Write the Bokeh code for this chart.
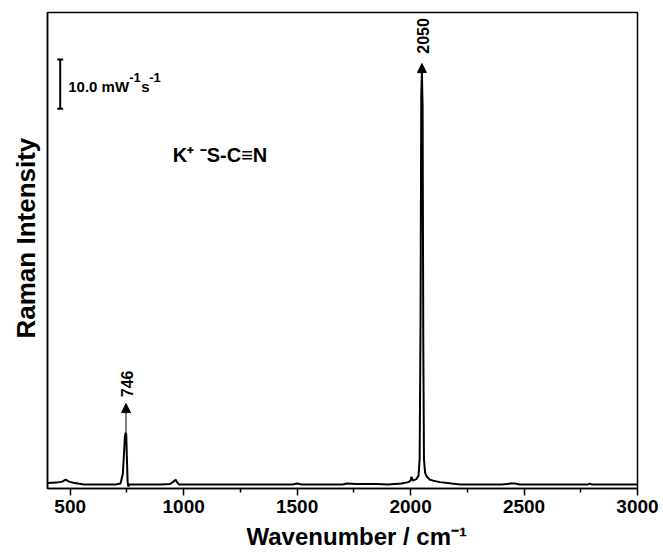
import numpy as np
from bokeh.plotting import figure
from bokeh.models import FixedTicker, Arrow, NormalHead, Range1d, Title
from bokeh.core.properties import value
from bokeh.embed import file_html
from bokeh.resources import INLINE

# Spectrum (wavenumber / cm-1, intensity in mW^-1 s^-1 units)
wavenumber = [400, 440, 465, 480, 495, 520, 560, 650, 700, 722, 732, 737, 741, 744, 747,
              750, 753, 756, 760, 800, 900, 940, 955, 965, 972, 980, 1000, 1200, 1480,
              1500, 1520, 1700, 1720, 1760, 1800, 1850, 1900, 1960, 1990, 2000, 2004,
              2010, 2025, 2035, 2040, 2044, 2047, 2050, 2053, 2056, 2059, 2064, 2072,
              2085, 2100, 2130, 2180, 2220, 2400, 2440, 2460, 2480, 2780, 2790, 2800, 3000]
intensity = [1.1, 1.2, 1.4, 1.8, 1.4, 1.1, 0.8, 0.8, 0.8, 1.0, 3.0, 7.0, 10.5, 11.4, 11.0,
             6.0, 1.5, 0.4, 0.8, 0.8, 0.8, 0.9, 1.4, 1.8, 1.2, 0.8, 0.8, 0.8, 0.8,
             1.0, 0.8, 0.8, 1.0, 0.9, 0.9, 0.9, 0.8, 1.0, 1.3, 1.6, 2.4,
             1.6, 1.9, 2.6, 6.0, 35.0, 80.0, 84.8, 78.0, 30.0, 6.0, 3.2, 2.4,
             1.8, 1.6, 1.3, 1.0, 0.8, 0.8, 1.0, 1.0, 0.8, 0.8, 1.0, 0.8, 0.8]

peak_x = [746, 2050]
peak_labels = ["746", "2050"]
peak_arrow_start = [11.4, 70.0]
peak_arrow_end = [17.3, 86.6]
peak_label_y = [18.6, 88.6]

x_ticks = [500, 1000, 1500, 2000, 2500, 3000]
x_minor = [750, 1250, 1750, 2250, 2750]

x_title = "Wavenumber / cm\u207b\u00b9"
y_title = "Raman Intensity"

scale_x = 456
scale_bottom = 77.4
scale_top = 87.4
scale_parts = ["10.0 mW", "-1", "s", "-1"]
molecule_text = "K\u207a \u207bS-C\u2261N"

FONT = "Liberation Sans"

p = figure(width=663, height=560, output_backend="svg", toolbar_location=None,
           x_range=Range1d(400, 3000), y_range=Range1d(0, 97),
           min_border_left=47, min_border_right=26, min_border_top=12, min_border_bottom=72)
p.grid.visible = False
p.background_fill_color = "white"
p.border_fill_color = "white"
p.outline_line_color = "black"
p.outline_line_width = 1.5

p.line(wavenumber, intensity, line_color="black", line_width=2)

# X axis
xa = p.xaxis[0]
xa.ticker = FixedTicker(ticks=x_ticks, minor_ticks=x_minor)
xa.major_label_text_font = FONT
xa.major_label_text_font_style = "bold"
xa.major_label_text_font_size = "19px"
xa.major_label_text_color = "black"
xa.major_label_standoff = 4
xa.major_tick_out = 7
xa.major_tick_in = 0
xa.minor_tick_out = 4
xa.minor_tick_in = 0
xa.axis_line_width = 1.5
xa.major_tick_line_width = 1.5
xa.minor_tick_line_width = 1.5
xa.axis_line_color = "black"
xa.major_tick_line_color = "black"
xa.minor_tick_line_color = "black"

# Y axis (no ticks)
ya = p.yaxis[0]
ya.ticker = FixedTicker(ticks=[])
ya.axis_line_width = 1.5
ya.axis_line_color = "black"

# Axis titles as side titles (allowing the reference's off-centre placement)
p.add_layout(Title(text=x_title, align="left", offset=199, standoff=10,
                   text_font=FONT, text_font_style="bold", text_font_size="24px",
                   text_color="black"), "below")
p.add_layout(Title(text=y_title, align="left", offset=150, standoff=13,
                   text_font=FONT, text_font_style="bold", text_font_size="26px",
                   text_color="black"), "left")

# Peak arrows and labels
for px_, a0, a1 in zip(peak_x, peak_arrow_start, peak_arrow_end):
    p.add_layout(Arrow(end=NormalHead(size=9, fill_color="black", line_color="black"),
                       x_start=px_, y_start=a0, x_end=px_, y_end=a1,
                       line_color="black", line_width=1))
p.text(x=peak_x, y=peak_label_y, text=peak_labels, angle=np.pi / 2,
       text_font=value(FONT), text_font_style="bold", text_font_size="16px",
       text_align="left", text_baseline="middle", text_color="black", x_offset=1)

# Scale bar
p.segment(x0=[scale_x], y0=[scale_bottom], x1=[scale_x], y1=[scale_top],
          line_color="black", line_width=2)
p.segment(x0=[scale_x - 13, scale_x - 13], y0=[scale_bottom, scale_top],
          x1=[scale_x + 13, scale_x + 13], y1=[scale_bottom, scale_top],
          line_color="black", line_width=2)
mid = (scale_bottom + scale_top) / 2
sizes = ["15px", "13px", "15px", "13px"]
xoffs = [8, 69, 81, 89]
yoffs = [2, -7, 2, -7]
for t, s, xo, yo in zip(scale_parts, sizes, xoffs, yoffs):
    p.text(x=[scale_x], y=[mid], text=[t], x_offset=xo, y_offset=yo,
           text_font=value(FONT), text_font_style="bold", text_font_size=s,
           text_align="left", text_baseline="middle", text_color="black")

# Molecule label
p.text(x=[952], y=[67.9], text=[molecule_text],
       text_font=value(FONT), text_font_style="bold", text_font_size="20px",
       text_align="left", text_baseline="middle", text_color="black")

open("out.html", "w").write(file_html(p, INLINE))
